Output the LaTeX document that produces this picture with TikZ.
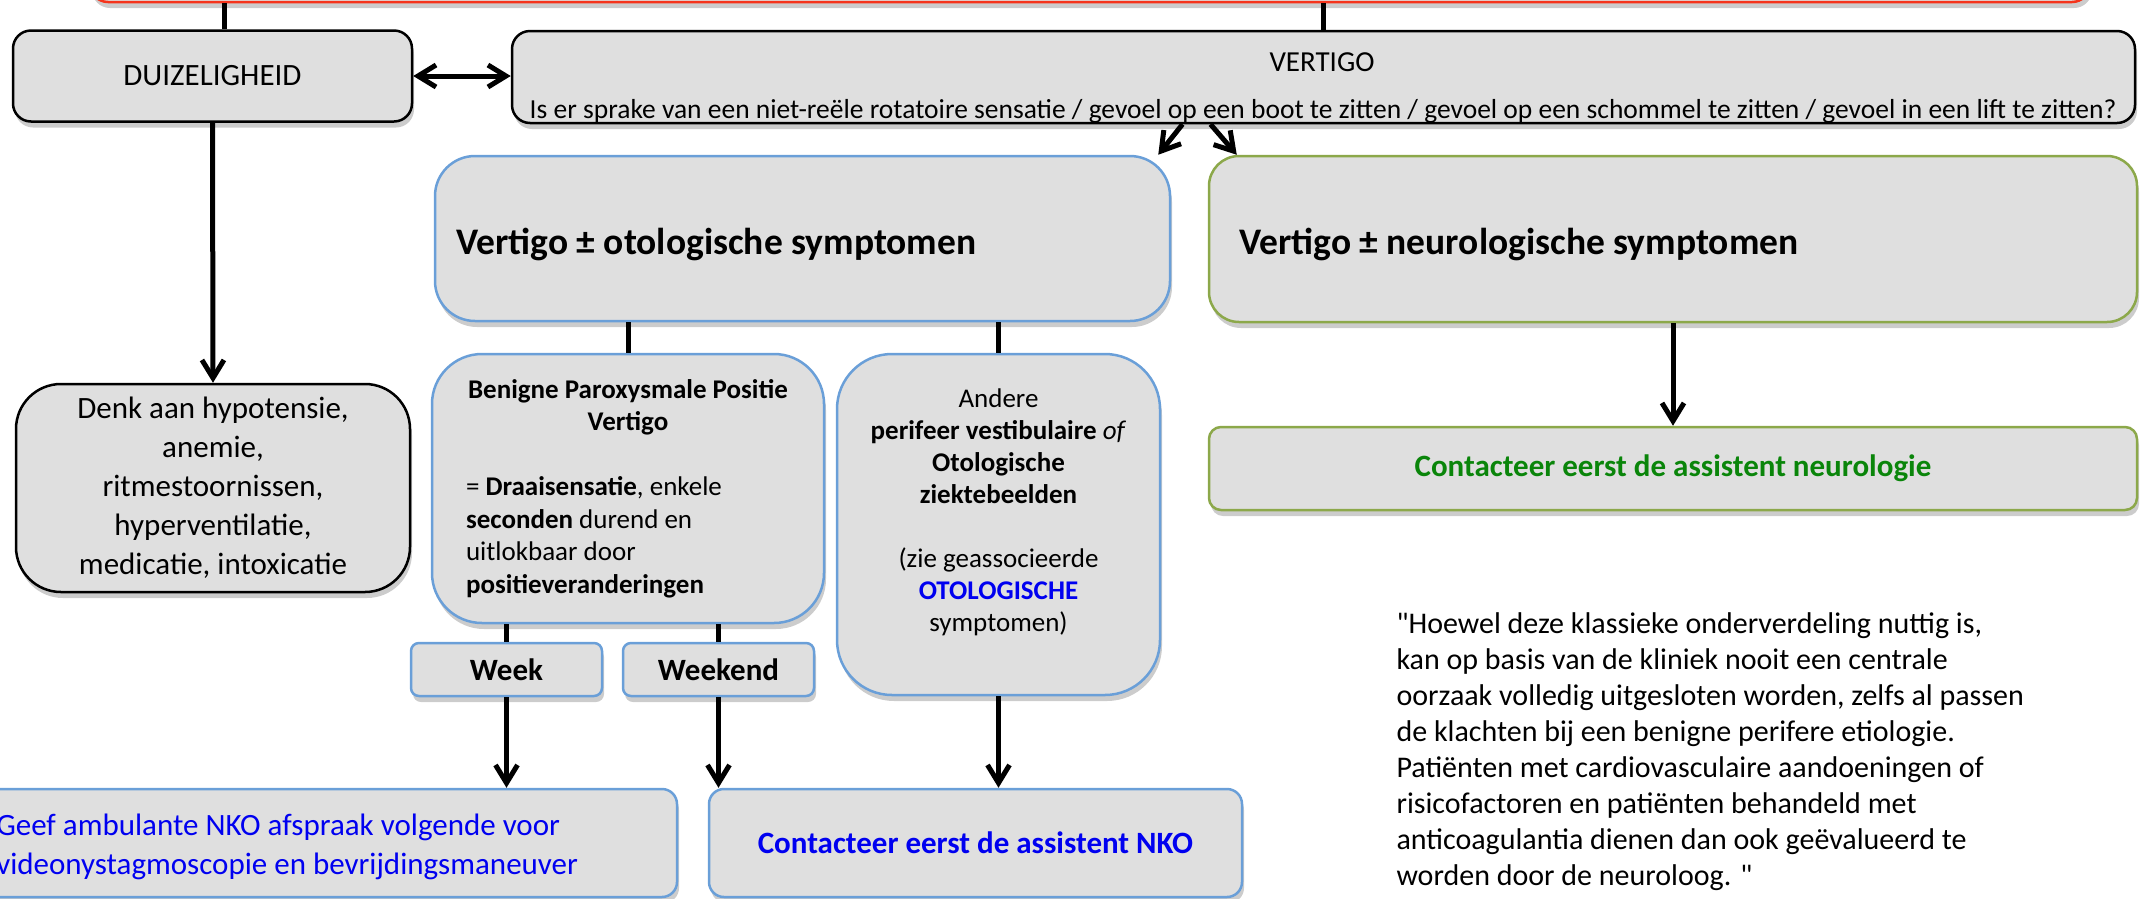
\documentclass[tikz,border=0pt]{standalone}
\usepackage{fontspec}
\setmainfont{Carlito}[Ligatures=TeXOff]
\usetikzlibrary{arrows.meta,shadows}

\definecolor{vakgrijs}{HTML}{DFDFDF}
\definecolor{otoblauw}{HTML}{6A9FD8}
\definecolor{neurogroen}{HTML}{8CA84A}
\definecolor{tekstblauw}{HTML}{0000F0}
\definecolor{tekstgroen}{HTML}{0A850A}
\definecolor{alarmrood}{HTML}{F5341C}

\newcommand{\tekstmaat}[2]{\fontsize{#1}{#2}\selectfont}

\tikzset{
  vak/.style={draw=black, line width=2.5pt, fill=vakgrijs, rounded corners=18pt, inner sep=0pt,
    drop shadow={shadow xshift=2pt, shadow yshift=-6pt, opacity=0.2, fill=black}},
  otovak/.style={vak, draw=otoblauw},
  neurovak/.style={vak, draw=neurogroen},
  lijn/.style={line width=5pt},
  pijl/.style={line width=5pt, -{Straight Barb[length=18pt,width=22pt]}},
  dubbelpijl/.style={line width=5pt, {Straight Barb[length=18pt,width=22pt]}-{Straight Barb[length=18pt,width=22pt]}},
}

\begin{document}
\begin{tikzpicture}[x=1pt,y=-1pt]
    \useasboundingbox (0,0) rectangle (2145,898);
    \clip (0,0) rectangle (2145,898);

    % bovenste rij
    \node[vak, draw=alarmrood, minimum width=2000pt, minimum height=84pt] (alarm) at (1090,-40) {};
    \node[vak, minimum width=399pt, minimum height=91pt, font=\tekstmaat{31}{38}] (duiz) at (212.5,76) {DUIZELIGHEID};
    \node[vak, minimum width=1623pt, minimum height=92pt] (vert) at (1323.5,77) {};
    \node[font=\tekstmaat{29}{35}] (vertT) at (1322,62) {VERTIGO};
    \node[font=\tekstmaat{27.5}{33}] (vertQ) at (1323,111) {Is er sprake van een niet-reële rotatoire sensatie / gevoel op een boot te zitten / gevoel op een schommel te zitten / gevoel in een lift te zitten?};

    % tweede rij
    \node[otovak, rounded corners=40pt, minimum width=735pt, minimum height=165pt] (oto) at (802.5,238.5) {};
    \node[font=\bfseries\tekstmaat{37.5}{45}, anchor=west] (otoT) at ([xshift=19pt,yshift=-6pt]oto.west) {Vertigo ± otologische symptomen};
    \node[neurovak, rounded corners=30pt, minimum width=928pt, minimum height=166pt] (neuro) at (1673,239) {};
    \node[font=\bfseries\tekstmaat{37.5}{45}, anchor=west] (neuroT) at ([xshift=28pt,yshift=-5pt]neuro.west) {Vertigo ± neurologische symptomen};

    \node[vak, rounded corners=45pt, minimum width=394pt, minimum height=208pt, align=center,
      font=\tekstmaat{31}{39}] (denk) at (213,488)
      {Denk aan hypotensie,\\anemie,\\ritmestoornissen,\\hyperventilatie,\\medicatie, intoxicatie};

    \node[otovak, rounded corners=50pt, minimum width=392pt, minimum height=269pt, text width=324pt,
      align=flush left, font=\tekstmaat{27}{32.5}] (bppv) at (628,488.5)
      {\makebox[\linewidth]{\bfseries Benigne Paroxysmale Positie}\\
       \makebox[\linewidth]{\bfseries Vertigo}\\[32.5pt]
       = \textbf{Draaisensatie}, enkele\\\textbf{seconden} durend en\\uitlokbaar door\\\textbf{positieveranderingen}};

    \node[otovak, rounded corners=55pt, minimum width=323pt, minimum height=341pt] (andere) at (998.5,524.5) {};
    \node[align=center, font=\tekstmaat{27}{32}] (andereT) at ([yshift=12pt]andere.center)
      {Andere\\\textbf{perifeer vestibulaire} \textit{of}\\\textbf{Otologische}\\\textbf{ziektebeelden}\\[32pt]
       (zie geassocieerde\\\textcolor{tekstblauw}{\textbf{OTOLOGISCHE}}\\symptomen)};

    \node[otovak, rounded corners=8pt, minimum width=191pt, minimum height=53pt, font=\bfseries\tekstmaat{31}{38}] (week) at (506.5,669.5) {Week};
    \node[otovak, rounded corners=8pt, minimum width=191pt, minimum height=53pt, font=\bfseries\tekstmaat{31}{38}] (weekend) at (718.5,669.5) {Weekend};

    \node[neurovak, rounded corners=12pt, minimum width=928pt, minimum height=83pt, text=tekstgroen,
      font=\bfseries\tekstmaat{31}{38}] (neuroc) at (1673,468.5) {Contacteer eerst de assistent neurologie};

    % onderste rij
    \node[otovak, rounded corners=15pt, minimum width=777pt, minimum height=108pt] (geef) at (288.5,843) {};
    \node[align=left, anchor=west, text=tekstblauw, font=\tekstmaat{31}{39}] (geefT) at ([xshift=94pt,yshift=-4pt]geef.west)
      {Geef ambulante NKO afspraak volgende voor\\videonystagmoscopie en bevrijdingsmaneuver};
    \node[otovak, rounded corners=15pt, minimum width=533pt, minimum height=108pt, text=tekstblauw,
      font=\bfseries\tekstmaat{31}{38}] (nkoc) at (975.5,843) {Contacteer eerst de assistent NKO};

    \node[align=left, anchor=north west, font=\tekstmaat{30}{36}] (citaat) at (1393,609)
      {"Hoewel deze klassieke onderverdeling nuttig is,\\
       kan op basis van de kliniek nooit een centrale\\
       oorzaak volledig uitgesloten worden, zelfs al passen\\
       de klachten bij een benigne perifere etiologie.\\
       Patiënten met cardiovasculaire aandoeningen of\\
       risicofactoren en patiënten behandeld met\\
       anticoagulantia dienen dan ook geëvalueerd te\\
       worden door de neuroloog. "};

    % verbindingen
    \coordinate (duizIn) at ([xshift=11.5pt]duiz.north);
    \draw[lijn] (duizIn) -- (duizIn |- alarm.south);
    \draw[lijn] (vert.north) -- (vert.north |- alarm.south);
    \draw[dubbelpijl] (duiz.east) -- (duiz.east -| vert.west);
    \draw[pijl] ([xshift=-141pt]vert.south) -- ([xshift=-13pt]oto.north east);
    \draw[pijl] ([xshift=-113pt]vert.south) -- ([xshift=29pt]neuro.north west);
    \draw[pijl] (duiz.south) -- (denk.north);
    \draw[lijn] (oto.south -| bppv.north) -- (bppv.north);
    \draw[lijn] (oto.south -| andere.north) -- (andere.north);
    \draw[lijn] (bppv.south -| week.north) -- (week.north);
    \draw[lijn] (bppv.south -| weekend.north) -- (weekend.north);
    \draw[pijl] (week.south) -- (week.south |- geef.north);
    \draw[pijl] (weekend.south) -- (weekend.south |- nkoc.north);
    \draw[pijl] (andere.south) -- (andere.south |- nkoc.north);
    \draw[pijl] (neuro.south) -- (neuroc.north);
\end{tikzpicture}
\end{document}
